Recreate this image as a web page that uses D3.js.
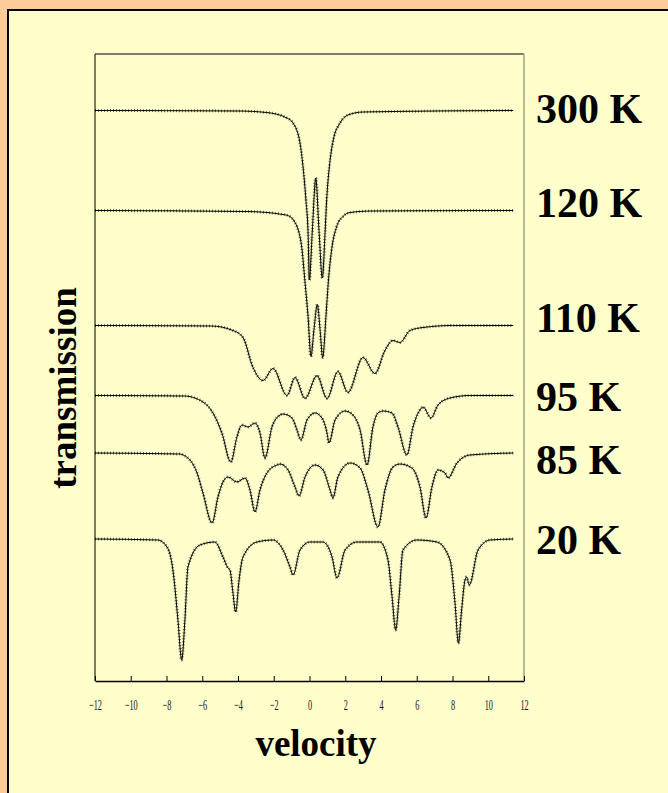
<!DOCTYPE html>
<html>
<head>
<meta charset="utf-8">
<script src="https://cdn.jsdelivr.net/npm/d3@7"></script>
<style>
  html, body { margin: 0; padding: 0; background: #FFCC99; }
  #chart { width: 668px; height: 793px; }
</style>
</head>
<body>
<div id="chart"></div>
<script>
// Data: spectra as [velocity (mm/s), relative transmission]
const temperatures = ["300 K", "120 K", "110 K", "95 K", "85 K", "20 K"];
// vertical stacking offset for each spectrum
const offsets = [0, -0.20, -0.43, -0.57, -0.685, -0.857];
const velocityTicks = [-12, -10, -8, -6, -4, -2, 0, 2, 4, 6, 8, 10, 12];

const spectrum300 = [
  [-12, 1.0], [-4.0, 0.999], [-2.4, 0.996], [-1.26, 0.985], [-0.92, 0.975],
  [-0.53, 0.935], [-0.36, 0.887], [-0.20, 0.821], [-0.08, 0.755], [-0.01, 0.661],
  [0.16, 0.761], [0.35, 0.865], [0.53, 0.761], [0.72, 0.665], [0.87, 0.755],
  [0.96, 0.821], [1.11, 0.887], [1.33, 0.941], [1.71, 0.975], [2.15, 0.991],
  [3.0, 0.997], [11.4, 1.0]
];
const spectrum120 = [
  [-12, 1.0], [-3.5, 0.998], [-1.48, 0.992], [-1.09, 0.988], [-0.81, 0.976],
  [-0.70, 0.968], [-0.42, 0.922], [-0.25, 0.856], [-0.08, 0.788], [0.08, 0.708],
  [0.25, 0.762], [0.44, 0.812], [0.59, 0.762], [0.74, 0.706], [0.92, 0.788],
  [1.05, 0.856], [1.24, 0.922], [1.52, 0.968], [1.87, 0.988], [2.27, 0.996],
  [3.5, 0.999], [11.4, 1.0]
];
const spectrum110 = [
  [-12, 1.0], [-5.5, 0.999], [-4.28, 0.99], [-3.72, 0.976], [-3.16, 0.916],
  [-2.60, 0.89], [-2.04, 0.914], [-1.26, 0.86], [-0.81, 0.896], [-0.25, 0.854],
  [0.42, 0.90], [0.98, 0.854], [1.59, 0.908], [2.15, 0.866], [2.99, 0.936],
  [3.66, 0.904], [4.22, 0.95], [4.67, 0.97], [5.06, 0.966], [5.62, 0.99],
  [6.35, 0.996], [8.0, 1.0], [11.4, 1.0]
];
const spectrum95 = [
  [-12, 1.0], [-7.0, 0.999], [-5.96, 0.987], [-5.40, 0.965], [-4.90, 0.925],
  [-4.40, 0.867], [-4.06, 0.917], [-3.78, 0.941], [-3.44, 0.937], [-3.05, 0.945],
  [-2.77, 0.925], [-2.49, 0.875], [-2.10, 0.937], [-1.65, 0.961], [-1.48, 0.963],
  [-0.98, 0.955], [-0.70, 0.931], [-0.48, 0.911], [-0.14, 0.951], [0.31, 0.965],
  [0.70, 0.955], [0.98, 0.925], [1.09, 0.905], [1.43, 0.951], [1.99, 0.969],
  [2.43, 0.961], [2.83, 0.931], [3.22, 0.861], [3.55, 0.937], [3.83, 0.965],
  [4.11, 0.969], [4.62, 0.965], [4.95, 0.937], [5.45, 0.881], [5.79, 0.937],
  [6.18, 0.971], [6.35, 0.977], [6.80, 0.955], [7.19, 0.981], [7.86, 0.995],
  [8.98, 1.0], [11.4, 1.0]
];
const spectrum85 = [
  [-12, 1.0], [-7.3, 0.998], [-6.69, 0.986], [-6.29, 0.960], [-5.96, 0.920],
  [-5.45, 0.860], [-5.12, 0.912], [-4.84, 0.942], [-4.56, 0.952], [-4.06, 0.942],
  [-3.61, 0.950], [-3.33, 0.926], [-3.05, 0.882], [-2.77, 0.926], [-2.38, 0.960],
  [-1.82, 0.976], [-1.65, 0.978], [-1.20, 0.966], [-0.81, 0.932], [-0.59, 0.914],
  [-0.25, 0.952], [0.31, 0.976], [0.76, 0.966], [1.15, 0.926], [1.31, 0.910],
  [1.59, 0.952], [2.27, 0.980], [2.83, 0.970], [3.27, 0.926], [3.83, 0.852],
  [4.22, 0.926], [4.67, 0.972], [5.06, 0.978], [5.73, 0.970], [6.18, 0.932],
  [6.52, 0.870], [6.85, 0.932], [7.19, 0.966], [7.58, 0.960], [7.75, 0.950],
  [8.25, 0.980], [8.98, 0.996], [11.4, 1.0]
];
const spectrum20 = [
  [-12, 1.0], [-8.5, 0.998], [-7.97, 0.984], [-7.64, 0.938], [-7.36, 0.838],
  [-7.15, 0.758], [-6.97, 0.838], [-6.80, 0.944], [-6.13, 0.988], [-5.29, 0.994],
  [-4.84, 0.964], [-4.56, 0.942], [-4.45, 0.938], [-4.30, 0.898], [-4.13, 0.854],
  [-3.94, 0.918], [-3.72, 0.964], [-2.94, 0.994], [-2.04, 0.998], [-1.48, 0.978],
  [-1.09, 0.944], [-0.92, 0.928], [-0.53, 0.978], [0.03, 0.994], [0.76, 0.994],
  [1.26, 0.964], [1.54, 0.922], [1.99, 0.978], [2.66, 0.994], [3.94, 0.994],
  [4.39, 0.958], [4.62, 0.884], [4.82, 0.818], [5.01, 0.884], [5.23, 0.978],
  [6.01, 0.998], [7.13, 0.994], [7.86, 0.958], [8.14, 0.872], [8.33, 0.792],
  [8.51, 0.858], [8.70, 0.918], [8.79, 0.924], [8.94, 0.908], [9.43, 0.978],
  [10.1, 0.998], [11.4, 1.0]
];
const spectra = [spectrum300, spectrum120, spectrum110, spectrum95, spectrum85, spectrum20];

// Layout
const width = 668, height = 793;
const plot = { left: 95, right: 524, top: 54, bottom: 681 };

const svg = d3.select("#chart").append("svg")
  .attr("width", width)
  .attr("height", height);

// light yellow panel with black top/left edge
svg.append("rect")
  .attr("x", 8).attr("y", 10)
  .attr("width", width).attr("height", height)
  .attr("fill", "#FFFFCC")
  .attr("stroke", "#000").attr("stroke-width", 2);

const x = d3.scaleLinear().domain([-12, 12]).range([plot.left, plot.right]);
const y = d3.scaleLinear().domain([-0.141, 1.113]).range([plot.bottom, plot.top]);

// frame
svg.append("line").attr("x1", plot.left).attr("x2", plot.right)
  .attr("y1", plot.top).attr("y2", plot.top)
  .attr("stroke", "#000").attr("stroke-width", 1.2);
svg.append("line").attr("x1", plot.left).attr("x2", plot.left)
  .attr("y1", plot.top).attr("y2", plot.bottom)
  .attr("stroke", "#222").attr("stroke-width", 1.2);
svg.append("line").attr("x1", plot.right).attr("x2", plot.right)
  .attr("y1", plot.top).attr("y2", plot.bottom)
  .attr("stroke", "#A3A38A").attr("stroke-width", 1.5);

// velocity axis, ticks point inward
const axis = svg.append("g")
  .attr("transform", `translate(0,${plot.bottom})`)
  .call(d3.axisBottom(x).tickValues(velocityTicks).tickSizeInner(-5).tickSizeOuter(0));
axis.select(".domain").attr("stroke", "#000").attr("stroke-width", 1.4);
axis.selectAll(".tick line").attr("stroke", "#000");
axis.selectAll(".tick text")
  .attr("y", 29).attr("dy", 0)
  .attr("transform", "scale(0.55,1)")
  .attr("fill", "#111")
  .style("font-family", "'Liberation Serif', 'Times New Roman', serif")
  .style("font-size", "15px");

// spectra: data dots blur + fitted line
const line = d3.line()
  .x(d => x(d[0]))
  .y(d => y(d[1]))
  .curve(d3.curveMonotoneX);

const g = svg.append("g");
spectra.forEach((s, i) => {
  const pts = s.map(d => [d[0], d[1] + offsets[i]]);
  g.append("path")
    .attr("d", line(pts))
    .attr("fill", "none")
    .attr("stroke", "#000")
    .attr("stroke-width", 3)
    .attr("stroke-dasharray", "1,2")
    .attr("opacity", 0.55);
  g.append("path")
    .attr("d", line(pts))
    .attr("fill", "none")
    .attr("stroke", "#000")
    .attr("stroke-width", 1);
});

// temperature labels
const labelShift = [12.5, 6, 6, 15, 21, 15];
svg.selectAll(".temp")
  .data(temperatures)
  .enter().append("text")
  .attr("class", "temp")
  .attr("x", 536)
  .attr("y", (d, i) => y(1 + offsets[i]) + labelShift[i])
  .style("font-family", "'Liberation Serif', 'Times New Roman', serif")
  .style("font-weight", "bold")
  .style("font-size", "42px")
  .text(d => d);

// axis titles
svg.append("text")
  .attr("x", 316).attr("y", 756)
  .attr("text-anchor", "middle")
  .style("font-family", "'Liberation Serif', 'Times New Roman', serif")
  .style("font-weight", "bold")
  .style("font-size", "37px")
  .text("velocity");

svg.append("text")
  .attr("transform", "translate(76,388) rotate(-90)")
  .attr("text-anchor", "middle")
  .style("font-family", "'Liberation Serif', 'Times New Roman', serif")
  .style("font-weight", "bold")
  .style("font-size", "37px")
  .text("transmission");
</script>
</body>
</html>
